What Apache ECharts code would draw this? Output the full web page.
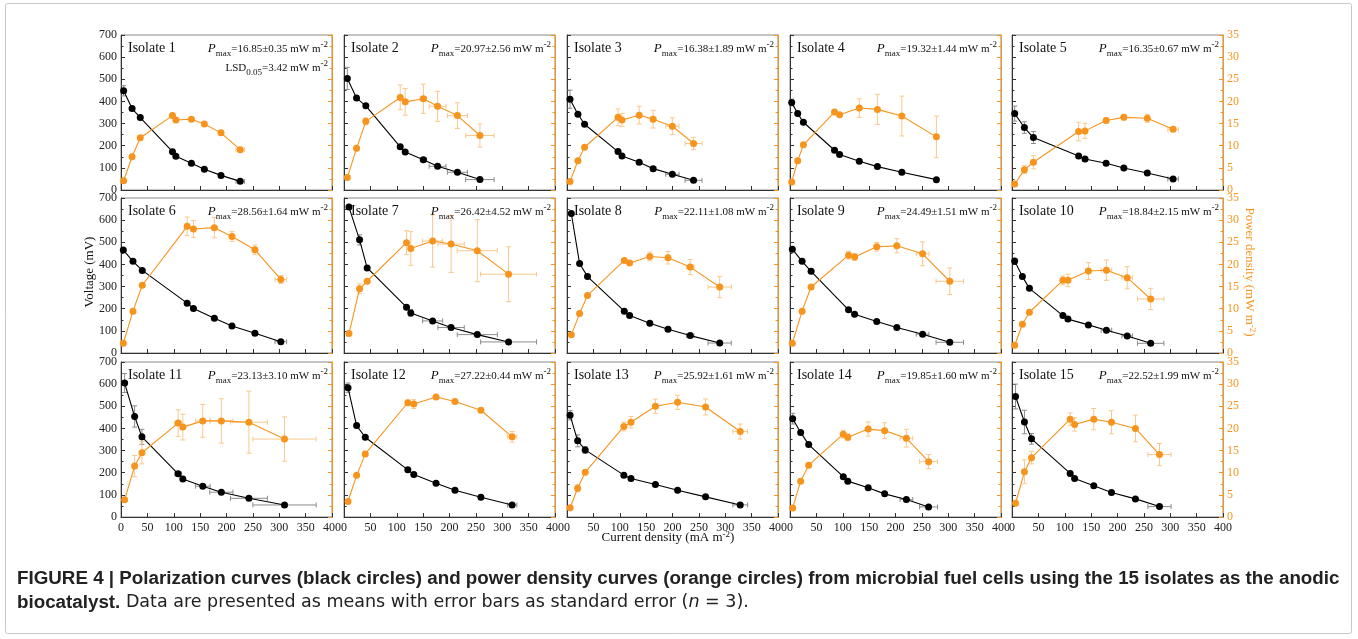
<!DOCTYPE html>
<html>
<head>
<meta charset="utf-8">
<script src="https://cdn.jsdelivr.net/npm/echarts@6/dist/echarts.min.js"></script>
<style>
html,body{margin:0;padding:0;background:#fff;}
#main{width:1358px;height:639px;}
</style>
</head>
<body>
<div id="main"></div>
<script>
// ---------------- DATA ----------------
const isolateNames = ['Isolate 1','Isolate 2','Isolate 3','Isolate 4','Isolate 5','Isolate 6','Isolate 7','Isolate 8','Isolate 9','Isolate 10','Isolate 11','Isolate 12','Isolate 13','Isolate 14','Isolate 15'];
const pmaxLabels = ['16.85±0.35','20.97±2.56','16.38±1.89','19.32±1.44','16.35±0.67','28.56±1.64','26.42±4.52','22.11±1.08','24.49±1.51','18.84±2.15','23.13±3.10','27.22±0.44','25.92±1.61','19.85±1.60','22.52±1.99'];
const lsdLabel = '3.42';

// current density (mA m-2)
const currentDensity = [
  [5, 21, 36.5, 97.6, 104, 133.5, 158, 189.6, 226],
  [6.3, 23.8, 41.4, 106.6, 116, 150.5, 177.4, 215, 257.7],
  [5.7, 20.7, 33.3, 96.7, 104.2, 136.9, 163.3, 199.7, 239.9],
  [3.2, 14.6, 25.4, 84.4, 94, 131.4, 165.7, 212, 277.5],
  [5.1, 23.5, 40.6, 126.3, 138.4, 178.4, 212, 256.5, 305.4],
  [4.4, 22.7, 40.3, 125.4, 137.3, 177, 210.4, 253.9, 303],
  [9.4, 29.5, 43.9, 118.5, 126.6, 168, 203, 252.7, 312],
  [8.2, 23.9, 38.9, 108.6, 118.7, 157, 191.5, 233.6, 289.5],
  [4.4, 22.9, 40, 111, 122.5, 164.4, 202.5, 251.4, 302.9],
  [5.1, 19.7, 33, 96.5, 106, 144.8, 179, 218.4, 262.9],
  [6.9, 25.8, 39.7, 108.3, 117.2, 155, 190.2, 242.5, 310],
  [7.6, 23.9, 40.3, 121, 132.3, 174.5, 210.4, 259.5, 318.7],
  [5.9, 20.2, 34.5, 107.8, 121.3, 167.6, 209.7, 262.7, 328.4],
  [5.1, 20.2, 35.4, 101, 109.5, 148.2, 179.4, 220.6, 262.7],
  [6.7, 23.6, 37, 110.3, 118.7, 155, 188.6, 234, 279.6]
];
// voltage (mV)
const voltage = [
  [448, 368, 327, 173, 152, 121, 93.5, 66, 39],
  [504, 415, 380, 195, 172, 137, 107, 80, 47],
  [410, 342, 297, 173.5, 154, 125, 96.5, 71, 43.7],
  [395, 345, 306, 179.5, 160, 129.7, 105.6, 80, 46.8],
  [345, 282, 237, 154, 140, 120.7, 99.5, 77, 49.8],
  [465, 414, 373, 225, 201, 157, 122, 89, 51],
  [659, 511, 384, 207, 181, 145, 115, 83, 50],
  [630, 404, 345, 189, 169, 134.6, 107, 78.6, 45],
  [469, 414, 369, 195, 175, 142, 115, 84.7, 48.4],
  [415, 345, 292, 169, 153, 127, 103, 77, 43.8],
  [605, 454, 362, 195, 172, 139, 112, 84.5, 54.3],
  [584, 413, 360, 213, 192, 152, 121, 89, 54],
  [459, 344, 303, 189, 174, 147, 121, 91, 54.5],
  [444, 382, 327, 182, 162, 132, 104.5, 79, 45.5],
  [544, 429, 353, 197, 174, 141, 110.6, 81.8, 47]
];
// power density (mW m-2)
const power = [
  [2.1, 7.5, 11.8, 16.8, 15.8, 16.0, 14.9, 12.9, 9.1],
  [2.8, 9.4, 15.5, 20.9, 19.9, 20.6, 18.9, 16.8, 12.3],
  [1.9, 6.6, 9.65, 16.4, 15.8, 16.9, 16.0, 14.4, 10.5],
  [1.8, 6.6, 10.2, 17.6, 17.0, 18.5, 18.2, 16.7, 12.0],
  [1.36, 4.6, 6.26, 13.2, 13.35, 15.7, 16.4, 16.2, 13.7],
  [2.2, 9.45, 15.3, 28.6, 28.0, 28.3, 26.3, 23.3, 16.6],
  [4.4, 14.5, 16.2, 24.9, 23.6, 25.3, 24.6, 23.1, 17.8],
  [4.1, 8.9, 13.0, 20.9, 20.3, 21.8, 21.5, 19.4, 14.9],
  [2.2, 9.45, 14.9, 22.1, 21.7, 24.0, 24.2, 22.4, 16.2],
  [1.74, 6.5, 9.2, 16.4, 16.4, 18.5, 18.7, 17.0, 12.2],
  [3.9, 11.5, 14.5, 21.2, 20.3, 21.7, 21.7, 21.4, 17.6],
  [3.5, 9.4, 14.25, 25.8, 25.5, 27.1, 26.1, 24.1, 18.1],
  [2.1, 6.5, 10.1, 20.45, 21.4, 25.0, 25.9, 24.85, 19.3],
  [2.05, 8.1, 11.7, 18.7, 18.0, 19.85, 19.5, 17.8, 12.5],
  [3.1, 10.2, 13.4, 22.1, 20.9, 22.1, 21.4, 20.0, 14.1]
];
// standard errors
const currentErr = [
  [0,0,0,0,0,0,0,4,8],
  [0,0,0,0,0,6,16,19,27],
  [0,0,0,0,0,0,5,12.6,16],
  [0,0,0,0,0,0,0,0,0],
  [0,0,0,0,0,0,0,0,10],
  [0,0,0,0,0,0,0,0,11],
  [0,0,0,0,0,19,25,38,53],
  [0,0,0,0,0,0,0,7,22],
  [0,0,0,0,0,0,0,12,26],
  [0,0,0,0,0,0,10,10,25],
  [0,0,0,6,0,14,22,35,60],
  [0,0,0,0,0,0,0,0,9],
  [0,0,0,0,0,0,0,0,14],
  [0,0,0,0,0,0,0,12,17],
  [0,0,0,0,0,0,0,0,22]
];
const voltageErr = [
  [23,0,0,0,0,0,0,0,0],
  [50,0,0,8,0,0,0,0,0],
  [41,0,0,0,0,0,0,0,0],
  [15,0,0,0,0,0,0,0,0],
  [34,26,27,0,0,0,0,0,0],
  [0,0,0,0,0,0,0,0,0],
  [0,23,0,0,15,0,0,0,0],
  [0,0,0,0,0,0,0,0,0],
  [0,0,0,0,0,0,0,0,0],
  [10,0,0,0,0,0,0,0,0],
  [43,48,34,0,0,0,0,0,0],
  [21,0,0,0,0,0,0,0,0],
  [21,27,15,0,0,0,0,0,0],
  [24,0,0,0,0,0,0,0,0],
  [56,53,24,0,0,0,0,0,0]
];
const powerErr = [
  [0,0,0,0,0,0,0,0,0],
  [0,0,0.75,2.8,3.0,3.3,3.4,2.9,2.6],
  [0,0,0,1.9,1.5,2.0,2.0,1.9,1.4],
  [0,0,0,0,0,2.1,3.4,4.5,4.7],
  [0,0.9,1.5,2.1,1.7,0.6,0.6,0.9,0.5],
  [0,0,0,2.1,1.9,2.3,1.1,1.1,0.9],
  [0,1.1,0,2.7,3.8,5.9,6.4,7.0,6.2],
  [0,0,0,0,0,1.0,1.4,1.7,2.4],
  [0,0,0,0.9,0.75,1.0,1.6,2.7,3.0],
  [0,0,0,1.0,1.4,1.9,2.3,2.5,2.4],
  [0,2.4,2.5,3.0,2.9,3.7,5.0,7.0,5.0],
  [0,0,0,0.6,1.0,0,0,0,1.2],
  [0,0.8,0.5,1.0,1.3,1.6,1.6,1.8,1.7],
  [0,0,0,0.9,0.75,1.6,1.8,2.0,1.6],
  [0,2.7,1.4,1.4,1.5,2.4,2.6,3.0,2.5]
];
const xTicks = {min: 0, max: 400, interval: 50};
const vTicks = {min: 0, max: 700, interval: 100};
const pTicks = {min: 0, max: 35, interval: 5};

// ---------------- LAYOUT / STYLE ----------------
const SERIF = '"Liberation Serif", "DejaVu Serif", serif';
const SANS = '"Liberation Sans", Arial, sans-serif';
const SANS2 = '"DejaVu Sans", "Liberation Sans", sans-serif';
const ORANGE = '#F7941D';
const ORANGE_ERR = '#F9C88E';
const BLACK_ERR = '#8c8c8c';
const lefts = [121, 344, 567, 790, 1012];
const tops = [35, 198, 362];
const W = 211, H = 155;

function errRenderer(color) {
  return function (params, api) {
    const x = api.value(0), y = api.value(1), xe = api.value(2), ye = api.value(3);
    const children = [];
    const style = {stroke: color, lineWidth: 1};
    const cap = 2.5;
    if (ye > 0) {
      const t = api.coord([x, y + ye]);
      const b = api.coord([x, y - ye]);
      children.push({type: 'line', shape: {x1: t[0], y1: t[1], x2: b[0], y2: b[1]}, style});
      children.push({type: 'line', shape: {x1: t[0] - cap, y1: t[1], x2: t[0] + cap, y2: t[1]}, style});
      children.push({type: 'line', shape: {x1: b[0] - cap, y1: b[1], x2: b[0] + cap, y2: b[1]}, style});
    }
    if (xe > 0) {
      const l = api.coord([Math.max(0, x - xe), y]);
      const r = api.coord([x + xe, y]);
      children.push({type: 'line', shape: {x1: l[0], y1: l[1], x2: r[0], y2: r[1]}, style});
      children.push({type: 'line', shape: {x1: l[0], y1: l[1] - cap, x2: l[0], y2: l[1] + cap}, style});
      children.push({type: 'line', shape: {x1: r[0], y1: r[1] - cap, x2: r[0], y2: r[1] + cap}, style});
    }
    return {type: 'group', children};
  };
}

const grids = [], xAxes = [], yAxes = [], series = [], graphics = [];
for (let i = 0; i < 15; i++) {
  const col = i % 5, row = Math.floor(i / 5);
  const L = lefts[col], T = tops[row];
  grids.push({left: L, top: T, width: W, height: H, show: true, borderColor: '#8a8a8a', borderWidth: 1, backgroundColor: 'transparent', containLabel: false, outerBoundsMode: 'none'});
  xAxes.push({
    gridIndex: i, type: 'value', min: xTicks.min, max: xTicks.max, interval: xTicks.interval,
    axisLine: {show: true, onZero: false, lineStyle: {color: '#333', width: 1}},
    axisTick: {show: true, inside: true, length: 4, lineStyle: {color: '#333'}},
    minorTick: {show: false},
    splitLine: {show: false},
    axisLabel: {show: row === 2, fontFamily: SERIF, fontSize: 12, color: '#222', margin: 5, hideOverlap: false, showMinLabel: true, showMaxLabel: true}
  });
  yAxes.push({
    gridIndex: i, type: 'value', position: 'left', min: vTicks.min, max: vTicks.max, interval: vTicks.interval,
    axisLine: {show: true, onZero: false, lineStyle: {color: '#333', width: 1}},
    axisTick: {show: true, inside: true, length: 4, lineStyle: {color: '#333'}},
    minorTick: {show: true, splitNumber: 2, length: 2.5, lineStyle: {color: '#333'}},
    splitLine: {show: false}, minorSplitLine: {show: false},
    axisLabel: {show: col === 0, fontFamily: SERIF, fontSize: 12, color: '#222', margin: 4, hideOverlap: false, showMinLabel: true, showMaxLabel: true}
  });
  yAxes.push({
    gridIndex: i, type: 'value', position: 'right', min: pTicks.min, max: pTicks.max, interval: pTicks.interval,
    axisLine: {show: true, onZero: false, lineStyle: {color: ORANGE, width: 1}},
    axisTick: {show: true, inside: true, length: 4, lineStyle: {color: ORANGE}},
    minorTick: {show: true, splitNumber: 2, length: 2.5, lineStyle: {color: ORANGE}},
    splitLine: {show: false}, minorSplitLine: {show: false},
    axisLabel: {show: col === 4, fontFamily: SERIF, fontSize: 12, color: ORANGE, margin: 4, hideOverlap: false, showMinLabel: true, showMaxLabel: true}
  });
  const xs = currentDensity[i];
  series.push({
    type: 'custom', xAxisIndex: i, yAxisIndex: 2 * i, renderItem: errRenderer(BLACK_ERR), z: 1, silent: true,
    encode: {x: 0, y: 1},
    data: xs.map((x, k) => [x, voltage[i][k], currentErr[i][k], voltageErr[i][k]])
  });
  series.push({
    type: 'custom', xAxisIndex: i, yAxisIndex: 2 * i + 1, renderItem: errRenderer(ORANGE_ERR), z: 1, silent: true,
    encode: {x: 0, y: 1},
    data: xs.map((x, k) => [x, power[i][k], currentErr[i][k], powerErr[i][k]])
  });
  series.push({
    type: 'line', xAxisIndex: i, yAxisIndex: 2 * i, z: 3,
    symbol: 'circle', symbolSize: 7, showSymbol: true,
    lineStyle: {color: '#000', width: 1.1}, itemStyle: {color: '#000'},
    data: xs.map((x, k) => [x, voltage[i][k]])
  });
  series.push({
    type: 'line', xAxisIndex: i, yAxisIndex: 2 * i + 1, z: 3,
    symbol: 'circle', symbolSize: 7, showSymbol: true,
    lineStyle: {color: ORANGE, width: 1.1}, itemStyle: {color: ORANGE},
    data: xs.map((x, k) => [x, power[i][k]])
  });
  // panel texts
  graphics.push({
    type: 'text', left: L + 7, top: T + 6, z: 10,
    style: {text: isolateNames[i], font: '14px ' + SERIF, fill: '#111'}
  });
  graphics.push({
    type: 'text', right: 1358 - (L + W - 4), top: T + 5, z: 10,
    style: {
      text: '{p|P}{s|max}{n|=' + pmaxLabels[i] + ' mW m}{u|-2}',
      rich: {
        p: {fontFamily: SERIF, fontStyle: 'italic', fontSize: 13, lineHeight: 18, verticalAlign: 'middle', fill: '#111'},
        s: {fontFamily: SERIF, fontSize: 9, lineHeight: 9, verticalAlign: 'bottom', fill: '#111'},
        n: {fontFamily: SERIF, fontSize: 11, lineHeight: 18, verticalAlign: 'middle', fill: '#111'},
        u: {fontFamily: SERIF, fontSize: 9, lineHeight: 9, verticalAlign: 'top', fill: '#111'}
      }
    }
  });
  if (i === 0) {
    graphics.push({
      type: 'text', right: 1358 - (L + W - 4), top: T + 24, z: 10,
      style: {
        text: '{n|LSD}{s|0.05}{n|=' + lsdLabel + ' mW m}{u|-2}',
        rich: {
          s: {fontFamily: SERIF, fontSize: 9, lineHeight: 9, verticalAlign: 'bottom', fill: '#111'},
          n: {fontFamily: SERIF, fontSize: 11, lineHeight: 18, verticalAlign: 'middle', fill: '#111'},
          u: {fontFamily: SERIF, fontSize: 9, lineHeight: 9, verticalAlign: 'top', fill: '#111'}
        }
      }
    });
  }
}

// axis titles
graphics.push({
  type: 'text', x: 90, y: 272, rotation: Math.PI / 2, z: 10,
  style: {text: 'Voltage (mV)', font: '13px ' + SERIF, fill: '#111', align: 'center', verticalAlign: 'middle'}
});
graphics.push({
  type: 'text', x: 1249, y: 272, rotation: -Math.PI / 2, z: 10,
  style: {
    text: '{n|Power density (mW m}{u|-2}{n|)}', align: 'center', verticalAlign: 'middle',
    rich: {
      n: {fontFamily: SERIF, fontSize: 13, lineHeight: 16, verticalAlign: 'middle', fill: ORANGE},
      u: {fontFamily: SERIF, fontSize: 9, lineHeight: 9, verticalAlign: 'top', fill: ORANGE}
    }
  }
});
graphics.push({
  type: 'text', x: 668, y: 538, z: 10,
  style: {
    text: '{n|Current density (mA m}{u|-2}{n|)}', align: 'center', verticalAlign: 'middle',
    rich: {
      n: {fontFamily: SERIF, fontSize: 13, lineHeight: 16, verticalAlign: 'middle', fill: '#111'},
      u: {fontFamily: SERIF, fontSize: 9, lineHeight: 9, verticalAlign: 'top', fill: '#111'}
    }
  }
});
// caption
graphics.push({
  type: 'text', left: 17, top: 569, z: 10,
  style: {text: 'FIGURE 4 | Polarization curves (black circles) and power density curves (orange circles) from microbial fuel cells using the 15 isolates as the anodic', font: 'bold 18.8px ' + SANS, fill: '#222'}
});
graphics.push({
  type: 'text', left: 17, top: 593, z: 10,
  style: {
    text: '{b|biocatalyst.}{r| Data are presented as means with error bars as standard error (}{i|n}{r| = 3).}',
    rich: {
      b: {fontFamily: SANS, fontWeight: 'bold', fontSize: 18.8, fill: '#222'},
      r: {fontFamily: SANS2, fontSize: 17.5, fill: '#222'},
      i: {fontFamily: SANS2, fontStyle: 'italic', fontSize: 17.5, fill: '#222'}
    }
  }
});
// frame
graphics.push({
  type: 'rect', shape: {x: 5.5, y: 3.5, width: 1346, height: 630, r: 2}, z: 0, silent: true,
  style: {fill: 'none', stroke: '#c8c8c8', lineWidth: 1}
});

const chart = echarts.init(document.getElementById('main'), null, {renderer: 'canvas'});
chart.setOption({
  animation: false,
  backgroundColor: '#fff',
  grid: grids, xAxis: xAxes, yAxis: yAxes, series: series, graphic: graphics
});
</script>
</body>
</html>
